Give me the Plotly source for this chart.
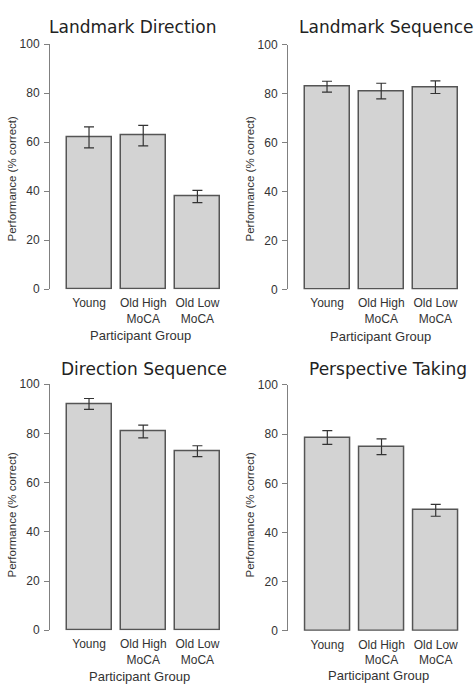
import plotly.graph_objects as go

# ---- data ----
categories = ["Young", "Old High<br>MoCA", "Old Low<br>MoCA"]
panel_titles = ["Landmark Direction", "Landmark Sequence", "Direction Sequence", "Perspective Taking"]
landmark_direction = [62.0, 62.7, 37.8]
landmark_direction_err = [4.3, 4.2, 2.5]
landmark_sequence = [82.8, 81.0, 82.6]
landmark_sequence_err = [2.2, 3.2, 2.6]
direction_sequence = [92.0, 80.8, 72.8]
direction_sequence_err = [2.2, 2.6, 2.2]
perspective_taking = [78.6, 74.9, 49.0]
perspective_taking_err = [2.8, 3.2, 2.4]
y_ticks = [0, 20, 40, 60, 80, 100]
y_label = "Performance (% correct)"
x_label = "Participant Group"

W, H = 475, 695
values = [landmark_direction, landmark_sequence, direction_sequence, perspective_taking]
errors = [landmark_direction_err, landmark_sequence_err, direction_sequence_err, perspective_taking_err]

# panel geometry in pixels: (axis x, y of 100, y of 0)
panels = [(50, 38, 288), (288, 38.3, 288.3), (50, 385, 636), (288.3, 385.7, 636.7)]
title_pos = [(132.5, 20), (386.5, 20), (143.5, 369), (388, 369)]
ytitle_pos = [(12, 176), (250, 176), (12, 519), (250, 519)]
xtitle_pos = [(140, 335), (380.5, 336.5), (139.5, 683), (378.5, 682.5)]
XMIN, XMAX = -0.72, 2.5
PXU = 54.2

def fx(px):
    return px / W

def fy(py):
    return 1 - py / H

fig = go.Figure()
tick_font = dict(family="Liberation Sans, Arial, sans-serif", size=12, color="#333333")
annotations = []
for i in range(4):
    ax = "" if i == 0 else str(i + 1)
    x0, ytop, ybot = panels[i]
    fig.add_trace(go.Bar(
        x=categories, y=values[i],
        xaxis="x" + ax, yaxis="y" + ax,
        width=0.83,
        marker=dict(color="#d3d3d3", line=dict(color="#555555", width=1.5)),
        error_y=dict(type="data", array=errors[i], color="#333333", thickness=1.2, width=5),
        hoverinfo="skip",
    ))
    xdom = [fx(x0), fx(x0 + (XMAX - XMIN) * PXU)]
    ydom = [fy(ybot), fy(ytop)]
    fig.update_layout(**{
        "xaxis" + ax: dict(domain=xdom, range=[XMIN, XMAX], anchor="y" + ax,
                           showline=False, ticks="", showgrid=False, zeroline=False,
                           tickfont=tick_font, ticklabelstandoff=5, fixedrange=True),
        "yaxis" + ax: dict(domain=ydom, range=[0, 100], anchor="x" + ax,
                           showline=True, linecolor="#808080", linewidth=1,
                           ticks="outside", ticklen=5, tickcolor="#808080", tickwidth=1,
                           tickvals=y_ticks, showgrid=False, zeroline=False,
                           tickfont=tick_font, ticklabelstandoff=2, fixedrange=True),
    })
    tx, ty = title_pos[i]
    annotations.append(dict(text=panel_titles[i], x=fx(tx), y=fy(ty), xref="paper", yref="paper",
                            xanchor="center", yanchor="middle", showarrow=False,
                            font=dict(family="DejaVu Sans", size=17, color="#222222")))
    yx, yy = ytitle_pos[i]
    annotations.append(dict(text=y_label, x=fx(yx), y=fy(yy), xref="paper", yref="paper",
                            xanchor="center", yanchor="middle", showarrow=False, textangle=-90,
                            font=dict(family="Liberation Sans, Arial, sans-serif", size=11.5, color="#333333")))
    xx, xy = xtitle_pos[i]
    annotations.append(dict(text=x_label, x=fx(xx), y=fy(xy), xref="paper", yref="paper",
                            xanchor="center", yanchor="middle", showarrow=False,
                            font=dict(family="Liberation Sans, Arial, sans-serif", size=13, color="#333333")))

fig.update_layout(width=W, height=H, margin=dict(l=0, r=0, t=0, b=0),
                  paper_bgcolor="white", plot_bgcolor="white", showlegend=False,
                  annotations=annotations, bargap=0)
fig.write_html("out.html")
